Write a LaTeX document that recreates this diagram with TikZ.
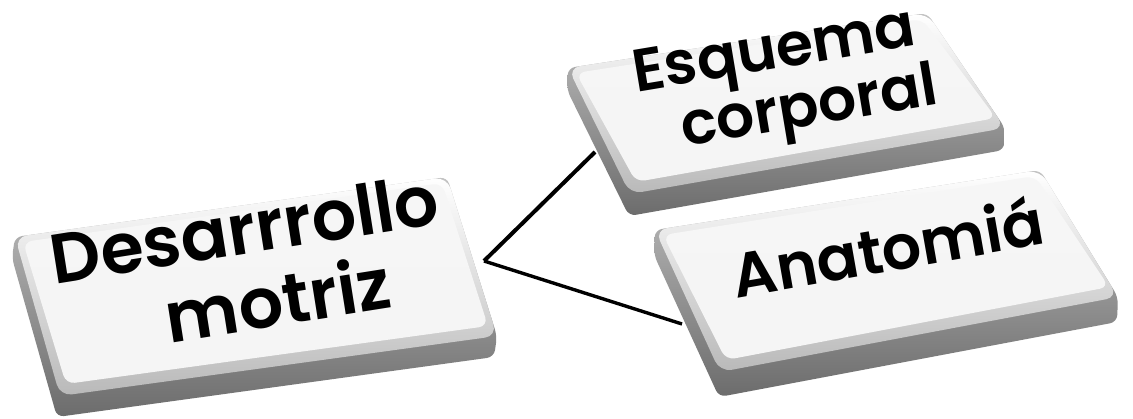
\documentclass[tikz,border=0pt]{standalone}
\usepackage{fontspec}
\newfontfamily\keyfont{Poppins SemiBold}
\usetikzlibrary{calc}
\definecolor{sidetop}{RGB}{195,195,195}
\definecolor{sidemid}{RGB}{125,125,125}
\definecolor{sidebot}{RGB}{108,108,108}
\definecolor{rimbot}{RGB}{185,185,185}
\definecolor{facecol}{RGB}{246,246,246}
\tikzset{
  keyside/.style={top color=sidetop, middle color=sidemid, bottom color=sidebot, rounded corners=7pt},
  keyrim/.style={top color=white, bottom color=rimbot, rounded corners=12pt},
  keyface/.style={top color=facecol, bottom color=white!96!black, rounded corners=9pt},
  keytext/.style={align=center, text=black, inner sep=0pt},
  link/.style={draw=black, line width=4pt},
}
\newcommand\drawkey[5]{%
  \shade[keyside] (#1) -- (#2) -- (#3) -- ($(#3)+#5$) -- ($(#4)+#5$) -- ($(#1)+#5$) -- cycle;
  \shade[keyrim] (#1) -- (#2) -- (#3) -- (#4) -- cycle;
  \shade[keyface] ($(#1)+(8,5)$) -- ($(#2)+(-5,6)$) -- ($(#3)+(-9,-10)$) -- ($(#4)+(6,-12)$) -- cycle;
}
\begin{document}
\begin{tikzpicture}[x=1pt,y=-1pt]
\useasboundingbox[fill=white] (0,0) rectangle (1133,419);
% key corners
\coordinate (a1) at (15,237);  \coordinate (a2) at (447,177);
\coordinate (a3) at (497,336); \coordinate (a4) at (60,396);
\coordinate (b1) at (568,68);  \coordinate (b2) at (927,13);
\coordinate (b3) at (1005,128); \coordinate (b4) at (630,194);
\coordinate (c1) at (655,230); \coordinate (c2) at (1040,170);
\coordinate (c3) at (1118,297); \coordinate (c4) at (720,372);
% connector ends
\coordinate (dmE) at (484,261);
\coordinate (ecW) at (595,152);
\coordinate (anW) at (682,324);
\draw[link] (dmE) -- (ecW);
\draw[link, line width=3.4pt] (dmE) -- (anW);
% keys
\drawkey{a1}{a2}{a3}{a4}{(-3,21)}
\drawkey{b1}{b2}{b3}{b4}{(-1,22)}
\drawkey{c1}{c2}{c3}{c4}{(-1,25)}
% labels
\node[keytext, rotate=9, font=\keyfont\fontsize{70}{76}\selectfont] (dm) at (250,266) {Desarrrollo\\\hspace*{44pt}motriz};
\node[keytext, rotate=9.5, font=\keyfont\fontsize{60}{60}\selectfont] (ec) at (780,86) {Esquema\\\hspace*{50pt}corporal};
\node[keytext, rotate=10, anchor=base, font=\keyfont\fontsize{62}{66}\selectfont] (an) at (892,271) {Anatomiá};
\end{tikzpicture}
\end{document}
